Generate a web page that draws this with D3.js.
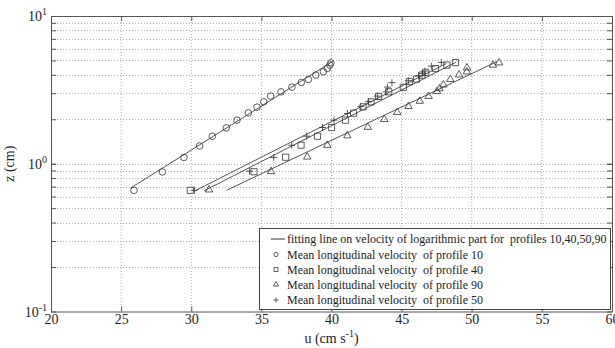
<!DOCTYPE html>
<html>
<head>
<meta charset="utf-8">
<script src="https://cdn.jsdelivr.net/npm/d3@7"></script>
<style>
  body { margin: 0; background: #fff; }
  text { font-family: "Liberation Serif", "Times New Roman", serif; fill: #222; white-space: pre; }
</style>
</head>
<body>
<svg id="chart" width="615" height="348"></svg>
<script>
// tick values
const xTicks = [20, 25, 30, 35, 40, 45, 50, 55, 60];
const yMajor = [0.1, 1, 10];
const yMajorExp = ['-1', '0', '1'];
const yGridValues = [0.2, 0.3, 0.4, 0.5, 0.6, 0.7, 0.8, 0.9, 1, 2, 3, 4, 5, 6, 7, 8, 9];

// profile 10 (circles)
const u10 = [25.92, 27.94, 29.48, 30.60, 31.50, 32.50, 33.26, 34.07, 34.69, 35.17,
  35.66, 36.40, 37.18, 37.85, 38.35, 38.88, 39.42, 39.70, 39.89, 39.96];
const z10 = [0.661, 0.880, 1.102, 1.320, 1.536, 1.748, 1.972, 2.210, 2.416, 2.624,
  2.869, 3.068, 3.302, 3.552, 3.723, 3.981, 4.193, 4.421, 4.654, 4.825];

// profile 40 (squares)
const u40 = [29.93, 34.47, 36.73, 37.83, 39.00, 40.00, 41.00, 41.57, 42.25, 42.82,
  43.36, 44.08, 45.12, 45.55, 46.06, 46.45, 46.72, 47.41, 48.23, 48.84];
const z40 = [0.661, 0.883, 1.107, 1.335, 1.536, 1.759, 1.972, 2.200, 2.427, 2.624,
  2.855, 3.068, 3.291, 3.597, 3.741, 3.981, 4.153, 4.406, 4.654, 4.840];

// profile 90 (triangles)
const u90 = [31.27, 35.69, 38.27, 39.70, 41.13, 42.59, 43.76, 44.69, 45.49, 46.30,
  46.93, 47.52, 47.70, 47.98, 48.47, 49.09, 49.65, 49.66, 51.51, 51.94];
const z90 = [0.666, 0.887, 1.112, 1.335, 1.548, 1.768, 1.997, 2.227, 2.446, 2.653,
  2.860, 3.087, 3.225, 3.422, 3.728, 4.000, 4.193, 4.462, 4.654, 4.825];

// profile 50 (pluses)
const u50 = [30.23, 34.15, 35.88, 37.16, 38.23, 39.36, 40.18, 41.14, 42.10, 42.64,
  43.27, 43.89, 43.99, 44.31, 45.48, 46.20, 46.47, 46.67, 47.12, 47.83];
const z50 = [0.661, 0.890, 1.102, 1.335, 1.536, 1.759, 1.972, 2.189, 2.442, 2.632,
  2.869, 3.068, 3.302, 3.541, 3.643, 3.932, 4.076, 4.238, 4.581, 4.855];

// fitted log lines: end points [u, z]
const fit10 = [[25.68, 0.685], [40.12, 4.95]];
const fit40 = [[30.90, 0.655], [48.90, 4.88]];
const fit50 = [[30.24, 0.654], [48.20, 4.78]];
const fit90 = [[32.52, 0.661], [51.80, 4.915]];

const legendLabels = [
  'fitting line on velocity of logarithmic part for  profiles 10,40,50,90',
  'Mean longitudinal velocity  of profile 10',
  'Mean longitudinal velocity  of profile 40',
  'Mean longitudinal velocity  of profile 90',
  'Mean longitudinal velocity  of profile 50',
];

const margin = { left: 51, top: 16, right: 3, bottom: 36.5 };
const W = 615, H = 348;
const svg = d3.select('#chart');

const x = d3.scaleLinear().domain([20, 60]).range([margin.left, W - margin.right]);
const y = d3.scaleLog().domain([0.1, 10]).range([H - margin.bottom, margin.top]);

const markColor = '#333';
const lineColor = '#555';

// grid (dotted)
const grid = svg.append('g').attr('class', 'grid')
  .attr('stroke', '#aaa').attr('stroke-width', 1).attr('stroke-dasharray', '1,2');
grid.selectAll('.gx').data(xTicks.slice(1, -1)).enter().append('line')
  .attr('x1', d => x(d)).attr('x2', d => x(d))
  .attr('y1', y(10)).attr('y2', y(0.1));
grid.selectAll('.gy').data(yGridValues).enter().append('line')
  .attr('x1', x(20)).attr('x2', x(60))
  .attr('y1', d => Math.round(y(d)) + 0.5).attr('y2', d => Math.round(y(d)) + 0.5);

// axes with inward ticks
const axisStyle = g => {
  g.select('.domain').attr('stroke', '#555');
  g.selectAll('.tick line').attr('stroke', '#555');
};
svg.append('g')
  .attr('transform', `translate(0,${y(0.1)})`)
  .call(d3.axisBottom(x).tickValues(xTicks).tickSize(-5).tickSizeOuter(0).tickPadding(3))
  .call(axisStyle)
  .call(g => g.selectAll('text').attr('font-size', 14).style('font-family', '"Liberation Serif", serif').attr('fill', '#222'));
svg.append('g')
  .attr('transform', `translate(0,${y(10)})`)
  .call(d3.axisTop(x).tickValues(xTicks).tickSize(-5).tickSizeOuter(0).tickFormat(''))
  .call(axisStyle);
svg.append('g')
  .attr('transform', `translate(${x(20)},0)`)
  .call(d3.axisLeft(y).tickValues(yGridValues.concat(yMajor)).tickSize(-5).tickSizeOuter(0).tickFormat(''))
  .call(axisStyle);
svg.append('g')
  .attr('transform', `translate(${x(60)},0)`)
  .call(d3.axisRight(y).tickValues(yGridValues.concat(yMajor)).tickSize(-5).tickSizeOuter(0).tickFormat(''))
  .call(axisStyle);

// y tick labels 10^n
const yl = svg.append('g').selectAll('text').data(yMajor).enter().append('text')
  .attr('x', 47).attr('y', d => y(d) + 5)
  .attr('text-anchor', 'end').attr('font-size', 14);
yl.append('tspan').text('10');
yl.append('tspan').attr('dy', -6).attr('font-size', 10).text((d, i) => yMajorExp[i]);

// axis titles
svg.append('text')
  .attr('transform', `translate(14,${(y(10) + y(0.1)) / 2}) rotate(-90)`)
  .attr('text-anchor', 'middle').attr('font-size', 14).text('z (cm)');
const xt = svg.append('text')
  .attr('x', (x(20) + x(60)) / 2).attr('y', 343)
  .attr('text-anchor', 'middle').attr('font-size', 14);
xt.append('tspan').text('u (cm s');
xt.append('tspan').attr('dy', -6).attr('font-size', 10).text('-1');
xt.append('tspan').attr('dy', 6).text(')');

// fit lines
const line = d3.line().x(d => x(d[0])).y(d => y(d[1]));
svg.append('g').selectAll('path').data([fit10, fit40, fit50, fit90]).enter().append('path')
  .attr('d', line).attr('fill', 'none').attr('stroke', lineColor).attr('stroke-width', 1);

// markers
const circlePath = d3.symbol().type(d3.symbolCircle).size(34)();
const squarePath = d3.symbol().type(d3.symbolSquare).size(38)();
const triPath = d3.symbol().type(d3.symbolTriangle).size(24)();
const plusPath = 'M-3.5,0H3.5M0,-3.5V3.5';

function drawMarks(us, zs, path) {
  svg.append('g').selectAll('path').data(us).enter().append('path')
    .attr('transform', (d, i) => `translate(${x(d)},${y(zs[i])})`)
    .attr('d', path)
    .attr('fill', 'none').attr('stroke', markColor).attr('stroke-width', 0.8);
}
drawMarks(u10, z10, circlePath);
drawMarks(u40, z40, squarePath);
drawMarks(u90, z90, triPath);
drawMarks(u50, z50, plusPath);

// legend
const lg = svg.append('g');
lg.append('rect').attr('x', 259.5).attr('y', 228.5).attr('width', 351).attr('height', 81)
  .attr('fill', '#fff').attr('stroke', '#444').attr('stroke-width', 1);
const rowY = [239, 254.5, 269.5, 284.5, 300];
lg.append('line').attr('x1', 271).attr('x2', 285).attr('y1', rowY[0]).attr('y2', rowY[0])
  .attr('stroke', '#777').attr('stroke-width', 1.5);
const legendMarks = [
  d3.symbol().type(d3.symbolCircle).size(14)(),
  d3.symbol().type(d3.symbolSquare).size(16)(),
  d3.symbol().type(d3.symbolTriangle).size(12)(),
  'M-2.5,0H2.5M0,-2.5V2.5',
];
lg.selectAll('.lm').data(legendMarks).enter().append('path')
  .attr('transform', (d, i) => `translate(276,${rowY[i + 1]})`)
  .attr('d', d => d).attr('fill', 'none').attr('stroke', markColor).attr('stroke-width', 0.8);
lg.selectAll('.lt').data(legendLabels).enter().append('text')
  .attr('x', 287).attr('y', (d, i) => rowY[i] + 4)
  .attr('font-size', 12).text(d => d);
</script>
</body>
</html>
